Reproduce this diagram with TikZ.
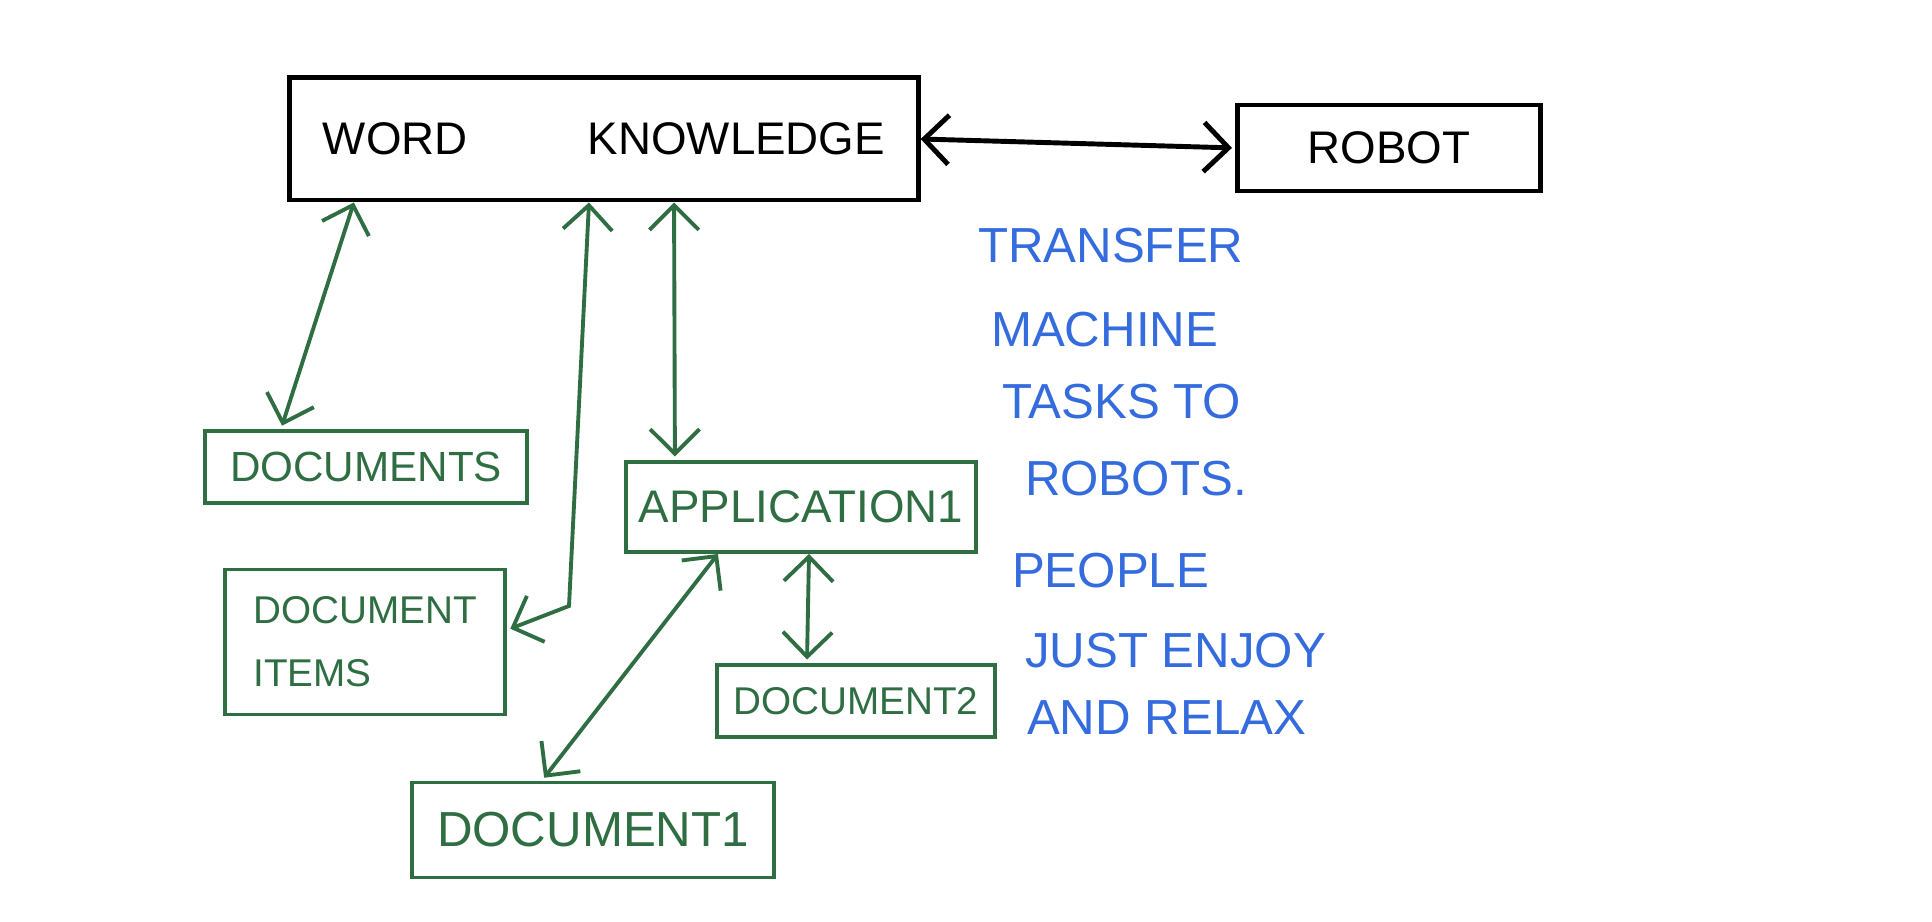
\documentclass[tikz,border=0pt]{standalone}
\usepackage{fontspec}
\setmainfont{Liberation Sans}
\usetikzlibrary{arrows.meta}

\definecolor{inkgreen}{RGB}{46,110,66}
\definecolor{inkblue}{RGB}{52,108,222}

\begin{document}
\begin{tikzpicture}[
            x = 0.01cm, y = -0.01cm, % one unit per pixel, y runs down
            > = {Straight Barb[length=7pt,width=14pt]}, % open arrow head
            shorten > = 1pt, % don't touch arrow head to node
            line width = 1.2pt % line style
        ]

        \tikzstyle{box}=[
            draw = black,
            line width = 1.4pt,
            inner sep = 0pt,
            font = \fontsize{13}{15}\selectfont
        ]
        \tikzstyle{doc}=[
            draw = inkgreen,
            text = inkgreen,
            line width = 1.1pt,
            inner sep = 0pt,
            font = \fontsize{12}{18}\selectfont
        ]
        \tikzstyle{link}=[<->, inkgreen, line width = 1.1pt]
        \tikzstyle{note}=[
            text = inkblue,
            inner sep = 0pt,
            align = left,
            font = \fontsize{14}{22}\selectfont
        ]

        \useasboundingbox (0,0) rectangle (1932,922);

        \node[box, minimum width=6.28cm, minimum height=1.22cm] (know) at (604,139) {WORD\hspace{1.2cm}KNOWLEDGE};
        \node[box, minimum width=3.02cm, minimum height=0.86cm] (robot) at (1389,148) {ROBOT};

        \node[doc, minimum width=3.21cm, minimum height=0.72cm] (docs) at (366,467) {DOCUMENTS};
        \node[doc, minimum width=3.5cm, minimum height=0.9cm, font=\fontsize{13}{16}\selectfont] (app) at (801,507) {APPLICATION1};
        \node[doc, minimum width=2.8cm, minimum height=1.45cm, align=left, font=\fontsize{11}{18}\selectfont] (items) at (365,642) {DOCUMENT\\ITEMS};
        \node[doc, minimum width=2.77cm, minimum height=0.72cm, font=\fontsize{11}{14}\selectfont] (doctwo) at (856,701) {DOCUMENT2};
        \node[doc, minimum width=3.61cm, minimum height=0.95cm, font=\fontsize{14}{17}\selectfont] (docone) at (593,830) {DOCUMENT1};

        \node[note, anchor=north west] (note) at (976,226) {TRANSFER\\[2pt]
            \hspace*{1.3mm}MACHINE\\[-1.7pt]
            \hspace*{2.4mm}TASKS TO\\
            \hspace*{4.7mm}ROBOTS.\\[4pt]
            \hspace*{3.4mm}PEOPLE\\[1pt]
            \hspace*{4.7mm}JUST ENJOY\\[-3pt]
            \hspace*{4.9mm}AND RELAX};

        \coordinate (bend) at (569,606);

        \draw[<->, line width=1.4pt] (know.east) -- (robot.west);
        \draw[link] ([xshift=-2.5cm]know.south) -- ([xshift=-0.85cm]docs.north);
        \draw[link] ([xshift=-0.15cm]know.south) -- (bend) -- ([yshift=0.12cm]items.east);
        \draw[link] ([xshift=0.7cm]know.south) -- ([xshift=-1.26cm]app.north);
        \draw[link] ([xshift=-0.83cm]app.south) -- ([xshift=-0.51cm]docone.north);
        \draw[link] ([xshift=0.08cm]app.south) -- ([xshift=-0.49cm]doctwo.north);

  \end{tikzpicture}
\end{document}
